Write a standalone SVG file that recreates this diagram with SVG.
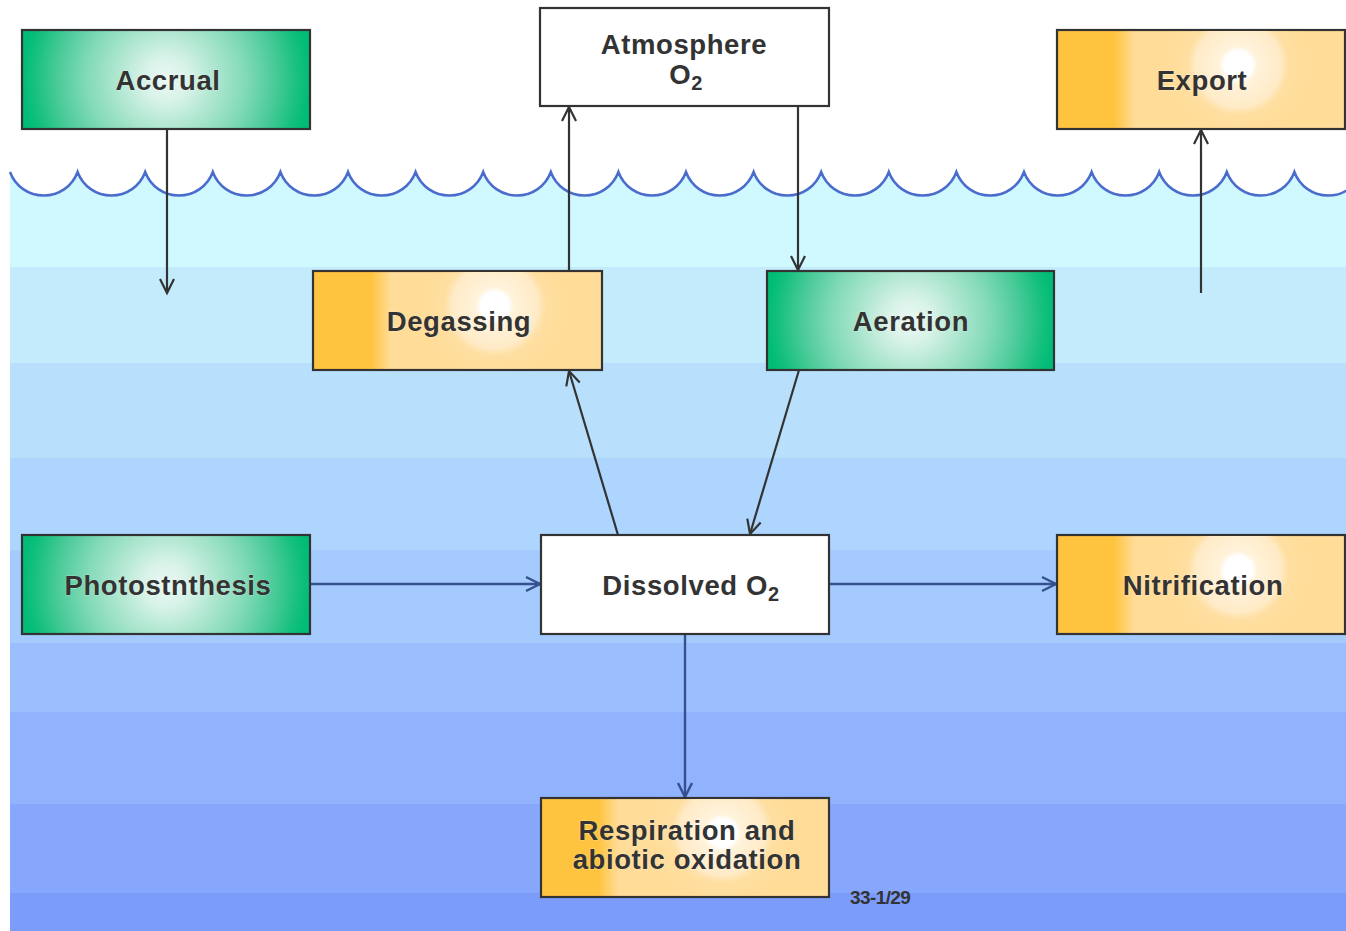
<svg xmlns="http://www.w3.org/2000/svg" width="1346" height="931" viewBox="0 0 1346 931">
<style>
.box{stroke:#333;stroke-width:2.2}
.lbl{font-family:"Liberation Sans",Arial,sans-serif;font-weight:bold;font-size:27.5px;letter-spacing:0.6px;fill:#333;text-anchor:middle;stroke:#fff;stroke-width:0.6;stroke-opacity:0.6;paint-order:stroke}
.sub{font-size:20px}
.con{fill:none;stroke:#333;stroke-width:2.2}
.conb{fill:none;stroke:#34508f;stroke-width:2.4}
.code{font-family:"Liberation Sans",Arial,sans-serif;font-weight:bold;font-size:19px;fill:#333;letter-spacing:-0.6px}
</style>
<defs>
<radialGradient id="gGreen" cx="0.5" cy="0.5" r="0.5" gradientTransform="translate(0.5 0.5) scale(1 2.9) translate(-0.5 -0.5)">
<stop offset="0" stop-color="#eaf8f3"/>
<stop offset="0.15" stop-color="#d9f3e9"/>
<stop offset="0.35" stop-color="#ade6cf"/>
<stop offset="0.55" stop-color="#82dab7"/>
<stop offset="0.75" stop-color="#4ccb9a"/>
<stop offset="0.9" stop-color="#1bc181"/>
<stop offset="1" stop-color="#00bc76"/>
</radialGradient>
<linearGradient id="gOrangeBase" x1="0" y1="0" x2="1" y2="0">
<stop offset="0" stop-color="#ffc43f"/>
<stop offset="0.2" stop-color="#ffc43f"/>
<stop offset="0.27" stop-color="#ffdc98"/>
<stop offset="1" stop-color="#ffdc98"/>
</linearGradient>
<radialGradient id="gOrangeHi" cx="0.5" cy="0.5" r="0.5" gradientTransform="translate(0.63 0.35) scale(0.55 1.6) translate(-0.5 -0.5)">
<stop offset="0" stop-color="#ffffff" stop-opacity="1"/>
<stop offset="0.18" stop-color="#ffffff" stop-opacity="1"/>
<stop offset="0.24" stop-color="#fff3dc" stop-opacity="1"/>
<stop offset="0.55" stop-color="#ffeccb" stop-opacity="0.9"/>
<stop offset="0.65" stop-color="#ffe4b0" stop-opacity="0.4"/>
<stop offset="1" stop-color="#ffdc98" stop-opacity="0"/>
</radialGradient>
<clipPath id="water">
<path d="M10,172 a36 36 0 0 0 67.6 0 a36 36 0 0 0 67.6 0 a36 36 0 0 0 67.6 0 a36 36 0 0 0 67.6 0 a36 36 0 0 0 67.6 0 a36 36 0 0 0 67.6 0 a36 36 0 0 0 67.6 0 a36 36 0 0 0 67.6 0 a36 36 0 0 0 67.6 0 a36 36 0 0 0 67.6 0 a36 36 0 0 0 67.6 0 a36 36 0 0 0 67.6 0 a36 36 0 0 0 67.6 0 a36 36 0 0 0 67.6 0 a36 36 0 0 0 67.6 0 a36 36 0 0 0 67.6 0 a36 36 0 0 0 67.6 0 a36 36 0 0 0 67.6 0 a36 36 0 0 0 67.6 0 a36 36 0 0 0 67.6 0 L1362,931 L10,931 Z"/>
</clipPath>
<marker id="arr" markerUnits="userSpaceOnUse" markerWidth="20" markerHeight="20" refX="15" refY="8" orient="auto" viewBox="0 0 20 16">
<path d="M1,1 L15,8 L1,15" fill="none" stroke="#333" stroke-width="2.2"/>
</marker>
<marker id="arrb" markerUnits="userSpaceOnUse" markerWidth="20" markerHeight="20" refX="15" refY="8" orient="auto" viewBox="0 0 20 16">
<path d="M1,1 L15,8 L1,15" fill="none" stroke="#34508f" stroke-width="2.4"/>
</marker>
</defs>
<rect x="0" y="0" width="1346" height="931" fill="#ffffff"/>
<g id="water-bands" clip-path="url(#water)">
<rect x="0" y="160" width="1346" height="107" fill="#d0f8ff"/>
<rect x="0" y="267" width="1346" height="96" fill="#c3ebfc"/>
<rect x="0" y="363" width="1346" height="95" fill="#b8e0fd"/>
<rect x="0" y="458" width="1346" height="92" fill="#aed5fe"/>
<rect x="0" y="550" width="1346" height="93" fill="#a5cbfe"/>
<rect x="0" y="643" width="1346" height="69" fill="#9bbffd"/>
<rect x="0" y="712" width="1346" height="92" fill="#91b3fd"/>
<rect x="0" y="804" width="1346" height="89" fill="#86a7fc"/>
<rect x="0" y="893" width="1346" height="38" fill="#7c9cfa"/>
</g>
<path id="wave" d="M10,172 a36 36 0 0 0 67.6 0 a36 36 0 0 0 67.6 0 a36 36 0 0 0 67.6 0 a36 36 0 0 0 67.6 0 a36 36 0 0 0 67.6 0 a36 36 0 0 0 67.6 0 a36 36 0 0 0 67.6 0 a36 36 0 0 0 67.6 0 a36 36 0 0 0 67.6 0 a36 36 0 0 0 67.6 0 a36 36 0 0 0 67.6 0 a36 36 0 0 0 67.6 0 a36 36 0 0 0 67.6 0 a36 36 0 0 0 67.6 0 a36 36 0 0 0 67.6 0 a36 36 0 0 0 67.6 0 a36 36 0 0 0 67.6 0 a36 36 0 0 0 67.6 0 a36 36 0 0 0 67.6 0 a36 36 0 0 0 67.6 0" fill="none" stroke="#4a6ccc" stroke-width="2.5"/>
<g id="connectors">
<line class="con" x1="167" y1="129" x2="167" y2="293" marker-end="url(#arr)"/>
<line class="con" x1="569" y1="271" x2="569" y2="107" marker-end="url(#arr)"/>
<line class="con" x1="798" y1="106" x2="798" y2="270" marker-end="url(#arr)"/>
<line class="con" x1="1201" y1="293" x2="1201" y2="130" marker-end="url(#arr)"/>
<line class="con" x1="618" y1="535" x2="569" y2="371" marker-end="url(#arr)"/>
<line class="con" x1="799" y1="370" x2="750" y2="534" marker-end="url(#arr)"/>
<line class="conb" x1="310" y1="584" x2="540" y2="584" marker-end="url(#arrb)"/>
<line class="conb" x1="829" y1="584" x2="1056" y2="584" marker-end="url(#arrb)"/>
<line class="conb" x1="685" y1="634" x2="685" y2="797" marker-end="url(#arrb)"/>
</g>
<g id="accrual">
<rect class="box" x="22" y="30" width="288" height="99" fill="url(#gGreen)"/>
<text class="lbl" x="168" y="90">Accrual</text>
</g>
<g id="atmosphere">
<rect class="box" x="540" y="8" width="289" height="98" fill="#ffffff"/>
<text class="lbl" x="684" y="54">Atmosphere</text>
<text class="lbl" x="686" y="84">O<tspan class="sub" dy="6">2</tspan></text>
</g>
<g id="export">
<rect class="box" x="1057" y="30" width="288" height="99" fill="url(#gOrangeBase)"/>
<rect x="1058" y="31" width="286" height="97" fill="url(#gOrangeHi)"/>
<text class="lbl" x="1202" y="90">Export</text>
</g>
<g id="degassing">
<rect class="box" x="313" y="271" width="289" height="99" fill="url(#gOrangeBase)"/>
<rect x="314" y="272" width="287" height="97" fill="url(#gOrangeHi)"/>
<text class="lbl" x="459" y="331">Degassing</text>
</g>
<g id="aeration">
<rect class="box" x="767" y="271" width="287" height="99" fill="url(#gGreen)"/>
<text class="lbl" x="911" y="331">Aeration</text>
</g>
<g id="photosynthesis">
<rect class="box" x="22" y="535" width="288" height="99" fill="url(#gGreen)"/>
<text class="lbl" x="168" y="595">Photostnthesis</text>
</g>
<g id="dissolved">
<rect class="box" x="541" y="535" width="288" height="99" fill="#ffffff"/>
<text class="lbl" x="691" y="595">Dissolved O<tspan class="sub" dy="6">2</tspan></text>
</g>
<g id="nitrification">
<rect class="box" x="1057" y="535" width="288" height="99" fill="url(#gOrangeBase)"/>
<rect x="1058" y="536" width="286" height="97" fill="url(#gOrangeHi)"/>
<text class="lbl" x="1203" y="595">Nitrification</text>
</g>
<g id="respiration">
<rect class="box" x="541" y="798" width="288" height="99" fill="url(#gOrangeBase)"/>
<rect x="542" y="799" width="286" height="97" fill="url(#gOrangeHi)"/>
<text class="lbl" x="687" y="840">Respiration and</text>
<text class="lbl" x="687" y="869">abiotic oxidation</text>
</g>
<text class="code" x="850" y="904">33-1/29</text>
</svg>
